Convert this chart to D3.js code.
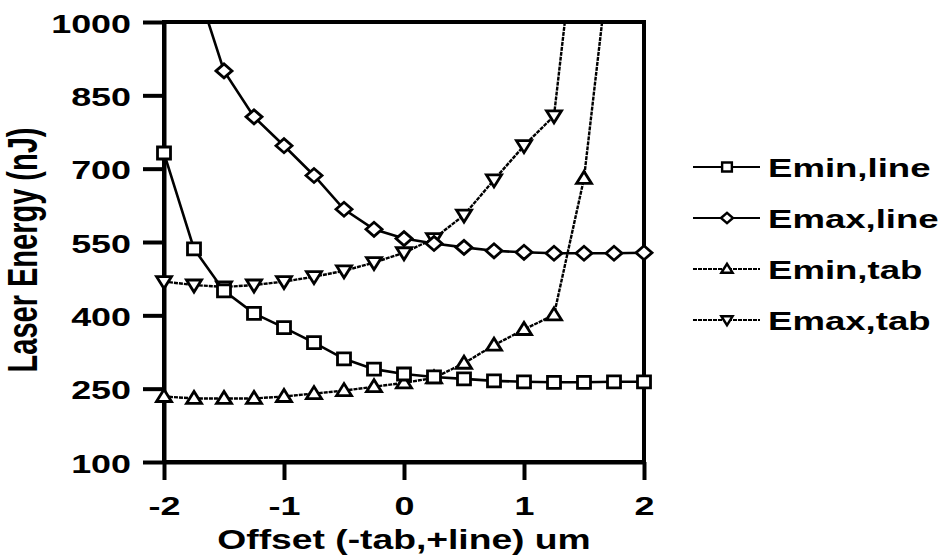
<!DOCTYPE html>
<html>
<head>
<meta charset="utf-8">
<script src="https://cdn.jsdelivr.net/npm/d3@7"></script>
<style>
    body { margin: 0; background: #fff; }
    svg { display: block; }
    text { font-family: "Liberation Sans", Arial, Helvetica, sans-serif; font-weight: bold; fill: #000; }
</style>
</head>
<body>
<div id="wrapper"></div>
<script>
// offsets (um) shared by all series
const offsets = [-2, -1.75, -1.5, -1.25, -1, -0.75, -0.5, -0.25, 0, 0.25, 0.5, 0.75, 1, 1.25, 1.5, 1.75, 2];

// laser energy (nJ), null = not measured / off the chart
const eminLine = [732, 536, 450, 404, 375, 344, 311, 290, 280, 274, 270, 266, 264, 263, 263, 264, 264];
const emaxLine = [null, 1090, 900, 806, 747, 686, 617, 576, 557, 547, 539, 532, 529, 527, 527, 527, 528];
const eminTab = [234, 230, 230, 230, 234, 240, 246, 254, 262, 272, 302, 339, 371, 401, 680, 1210, null];
const emaxTab = [469, 462, 458, 462, 469, 479, 491, 508, 528, 557, 605, 677, 747, 808, 1340, null, null];

const seriesNames = ['Emin,line', 'Emax,line', 'Emin,tab', 'Emax,tab'];
const yTicks = [100, 250, 400, 550, 700, 850, 1000];
const xTicks = [-2, -1, 0, 1, 2];

// the original scan is stretched sideways, text follows that
const stretch = 1.38;

let dimensions = {
    width: 946,
    height: 556,
    margin: { top: 22, right: 302, bottom: 94, left: 164 }
};
dimensions.boundWidth = dimensions.width - dimensions.margin.left - dimensions.margin.right;
dimensions.boundHeight = dimensions.height - dimensions.margin.top - dimensions.margin.bottom;

const markers = {
    square: s => `M${-6.5 * s},${-6 * s}h${13 * s}v${12 * s}h${-13 * s}Z`,
    diamond: s => `M${-8 * s},0L0,${-7 * s}L${8 * s},0L0,${7 * s}Z`,
    triUp: s => `M${-7.5 * s},${5 * s}L0,${-7 * s}L${7.5 * s},${5 * s}Z`,
    triDown: s => `M${-7.5 * s},${-5 * s}L0,${7 * s}L${7.5 * s},${-5 * s}Z`
};

const series = [
    { name: seriesNames[0], values: eminLine, marker: 'square', width: 2.6, dash: null },
    { name: seriesNames[1], values: emaxLine, marker: 'diamond', width: 2.6, dash: null },
    { name: seriesNames[2], values: eminTab, marker: 'triUp', width: 2.4, dash: '4,1' },
    { name: seriesNames[3], values: emaxTab, marker: 'triDown', width: 2.4, dash: '4,1' }
];

const svg = d3.select('#wrapper')
    .append('svg')
    .attr('width', dimensions.width)
    .attr('height', dimensions.height);

const bounds = svg.append('g')
    .attr('transform', `translate(${dimensions.margin.left},${dimensions.margin.top})`);

const xScale = d3.scaleLinear()
    .domain([-2, 2])
    .range([0, dimensions.boundWidth]);

const yScale = d3.scaleLinear()
    .domain([100, 1000])
    .range([dimensions.boundHeight, 0]);

bounds.append('clipPath')
    .attr('id', 'plot-clip')
    .append('rect')
    .attr('x', -40)
    .attr('y', 0)
    .attr('width', dimensions.boundWidth + 80)
    .attr('height', dimensions.boundHeight);

// frame
bounds.append('rect')
    .attr('width', dimensions.boundWidth)
    .attr('height', dimensions.boundHeight)
    .attr('fill', 'none')
    .attr('stroke', '#000')
    .attr('stroke-width', 4);

const yAxis = bounds.append('g')
    .call(d3.axisLeft(yScale).tickValues(yTicks).tickFormat(d => String(d)).tickSize(21).tickSizeOuter(0));

const xAxis = bounds.append('g')
    .attr('transform', `translate(0,${dimensions.boundHeight})`)
    .call(d3.axisBottom(xScale).tickValues(xTicks).tickFormat(d => String(d)).tickSize(18).tickSizeOuter(0));

[yAxis, xAxis].forEach(axis => {
    axis.select('.domain').attr('stroke-width', 4);
    axis.selectAll('.tick line').attr('stroke-width', 4);
    axis.selectAll('text')
        .attr('x', 0).attr('y', 0).attr('dy', null)
        .style('font-size', '26px');
});

yAxis.selectAll('text')
    .attr('text-anchor', 'end')
    .attr('transform', `translate(-33,10) scale(${stretch},1)`);

xAxis.selectAll('text')
    .attr('text-anchor', 'middle')
    .attr('transform', `translate(0,53) scale(${stretch},1)`);

// data lines
const lineGenerator = d3.line()
    .defined(d => d.v != null)
    .x(d => xScale(d.x))
    .y(d => yScale(d.v));

const drawOrder = [series[2], series[3], series[0], series[1]];

drawOrder.forEach(s => {
    const points = offsets.map((x, i) => ({ x, v: s.values[i] }));

    bounds.append('path')
        .attr('clip-path', 'url(#plot-clip)')
        .attr('d', lineGenerator(points))
        .attr('fill', 'none')
        .attr('stroke', '#000')
        .attr('stroke-width', s.width)
        .attr('stroke-dasharray', s.dash);

    bounds.append('g')
        .selectAll('path')
        .data(points.filter(d => d.v != null && d.v <= 1000))
        .join('path')
        .attr('transform', d => `translate(${xScale(d.x)},${yScale(d.v)})`)
        .attr('d', markers[s.marker](1))
        .attr('fill', '#fff')
        .attr('stroke', '#000')
        .attr('stroke-width', 2.8);
});

// axis titles
bounds.append('text')
    .attr('transform', `translate(${xScale(0)},${dimensions.boundHeight + 87}) scale(${stretch},1)`)
    .attr('text-anchor', 'middle')
    .style('font-size', '27px')
    .text('Offset (-tab,+line) um');

svg.append('text')
    .attr('transform', `translate(37,250) scale(1.45,1) rotate(-90)`)
    .attr('text-anchor', 'middle')
    .style('font-size', '29px')
    .text('Laser Energy (nJ)');

// legend
const legend = svg.append('g')
    .attr('transform', 'translate(693,167)');

const legendItems = legend.selectAll('g')
    .data(series)
    .join('g')
    .attr('transform', (d, i) => `translate(0,${i * 51})`);

legendItems.append('line')
    .attr('x1', 0)
    .attr('x2', 67)
    .attr('stroke', '#000')
    .attr('stroke-width', d => d.width - 0.6)
    .attr('stroke-dasharray', d => d.dash);

legendItems.append('path')
    .attr('transform', 'translate(34,0)')
    .attr('d', d => markers[d.marker](0.75))
    .attr('fill', '#fff')
    .attr('stroke', '#000')
    .attr('stroke-width', 2.4);

legendItems.append('text')
    .attr('transform', `translate(75,9.5) scale(${stretch},1)`)
    .style('font-size', '26.5px')
    .text(d => d.name);
</script>
</body>
</html>
